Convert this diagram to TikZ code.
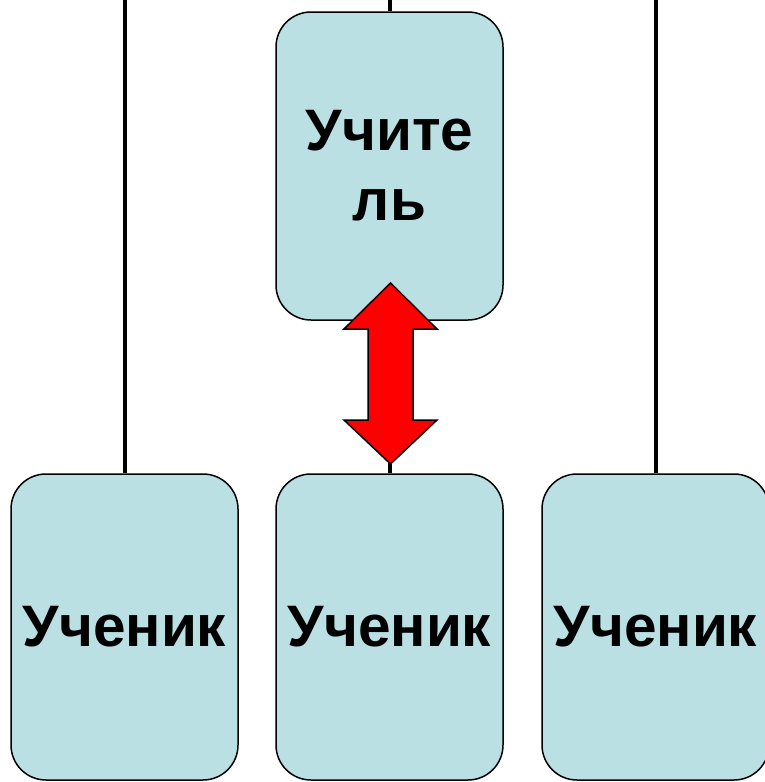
\documentclass[tikz,border=0pt]{standalone}
\usepackage{fontspec}
\setmainfont{Liberation Sans}
\definecolor{boxfill}{RGB}{186,224,228}
\definecolor{arrowred}{RGB}{255,0,0}
\begin{document}
\begin{tikzpicture}[x=1pt,y=-1pt,
  box/.style={draw=black, line width=1.5pt, fill=boxfill, rounded corners=35pt,
    minimum width=227pt, minimum height=306pt, inner sep=0pt, align=center,
    font=\fontsize{58.5}{70}\selectfont\bfseries},
  link/.style={line width=4pt, black}]
\useasboundingbox (0,0) rectangle (765,782);
\clip (0,0) rectangle (765,782);
\coordinate (tl) at (124.5,-5);
\coordinate (tm) at (389.5,-5);
\coordinate (tr) at (655.5,-5);
\node[box, minimum height=308pt] (teacher) at (389.5,166) {Учите\\ль};
\node[box] (s1) at (124.5,627) {Ученик};
\node[box] (s2) at (389.5,627) {Ученик};
\node[box] (s3) at (655.5,627) {Ученик};
\draw[link] (tl) -- (s1.north);
\draw[link] (tr) -- (s3.north);
\draw[link] (tm) -- (teacher.north);
\draw[link] (teacher.south) -- (s2.north);
\draw[line width=1.5pt, fill=arrowred, line join=miter]
  (390.5,283) -- (437,329) -- (413,329) -- (413,420) -- (437,420) -- (390.5,464)
  -- (344,420) -- (368,420) -- (368,329) -- (344,329) -- cycle;
\end{tikzpicture}
\end{document}
